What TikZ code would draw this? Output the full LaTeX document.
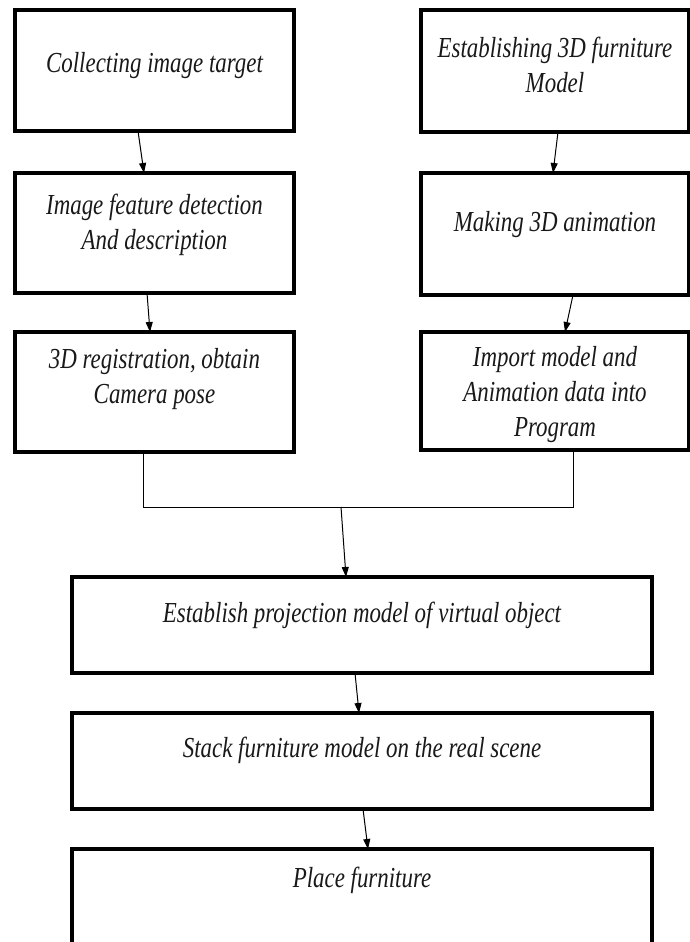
\documentclass[tikz,border=0pt]{standalone}
\usepackage{fontspec}
\newfontfamily\figfont[FakeStretch=0.79]{Liberation Serif}
\usetikzlibrary{arrows.meta}
\tikzset{
  box/.style={draw=black, line width=3.2pt, rectangle, inner sep=0pt, outer sep=0pt},
  lbl/.style={align=center, inner sep=0pt, text=black!90, font=\figfont\itshape\fontsize{29}{35}\selectfont},
  arr/.style={line width=1pt, -{Triangle[length=10pt,width=7pt]}},
  joint/.style={line width=1pt}
}
\begin{document}
\begin{tikzpicture}[x=1pt,y=-1pt]
\useasboundingbox (0,0) rectangle (690,942);
\fill[white] (0,0) rectangle (690,942);
% left column
\node[box, minimum width=279pt, minimum height=121pt] (b1) at (154.5,70.5) {};
\node[box, minimum width=279pt, minimum height=120pt] (b2) at (154.5,233) {};
\node[box, minimum width=279pt, minimum height=120pt] (b3) at (154.5,392) {};
% right column
\node[box, minimum width=268pt, minimum height=122pt] (r1) at (555,71) {};
\node[box, minimum width=268pt, minimum height=122pt] (r2) at (555,234) {};
\node[box, minimum width=268pt, minimum height=118pt] (r3) at (555,391) {};
% bottom column
\node[box, minimum width=580pt, minimum height=96pt] (b4) at (362,625) {};
\node[box, minimum width=580pt, minimum height=96pt] (b5) at (362,761) {};
\node[box, minimum width=580pt, minimum height=100pt] (b6) at (362,899) {};
% labels
\node[lbl] (t1) at (154.5,66) {Collecting image target};
\node[lbl] (t2) at (154.5,225) {Image feature detection\\And description};
\node[lbl] (t3) at (154.5,379) {3D registration, obtain\\Camera pose};
\node[lbl] (u1) at (555,65) {Establishing 3D furniture\\Model};
\node[lbl] (u2) at (555,225) {Making 3D animation};
\node[lbl] (u3) at (555,395) {Import model and\\Animation data into\\Program};
\node[lbl] (t4) at (362,615) {Establish projection model of virtual object};
\node[lbl] (t5) at (362,750) {Stack furniture model on the real scene};
\node[lbl] (t6) at (362,880) {Place furniture};
% connectors
\draw[arr] ([xshift=-16.5pt]b1.south) -- ([xshift=-10.5pt]b2.north);
\draw[arr] ([xshift=-7.5pt]b2.south) -- ([xshift=-4.5pt]b3.north);
\draw[arr] ([xshift=3pt]r1.south) -- ([xshift=-2pt]r2.north);
\draw[arr] ([xshift=18pt]r2.south) -- ([xshift=10pt]r3.north);
\coordinate (jl) at (143,507);
\coordinate (jr) at (573,507);
\coordinate (jm) at (341,507);
\draw[joint] ([xshift=-11.5pt]b3.south) -- (jl) -- (jr) -- ([xshift=18pt]r3.south);
\draw[arr] (jm) -- ([xshift=-16pt]b4.north);
\draw[arr] ([xshift=-7pt]b4.south) -- ([xshift=-3pt]b5.north);
\draw[arr] ([xshift=1pt]b5.south) -- ([xshift=6pt]b6.north);
\end{tikzpicture}
\end{document}
